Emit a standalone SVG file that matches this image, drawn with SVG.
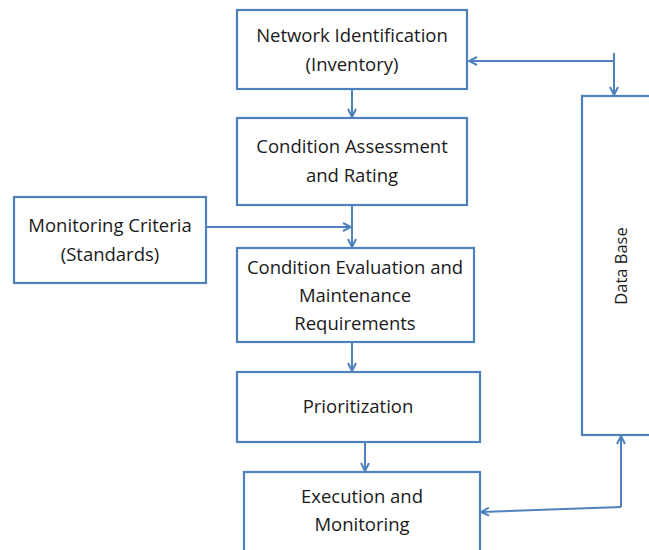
<svg xmlns="http://www.w3.org/2000/svg" width="649" height="550" viewBox="0 0 649 550">
  <style>
    .box { fill: #ffffff; stroke: #4f81bd; stroke-width: 2.2; }
    .lbl { font-family: "Open Sans", "Liberation Sans", sans-serif; font-size: 18.5px; fill: #1a1a1a; text-anchor: middle; }
    .wire { fill: none; stroke: #4f81bd; stroke-width: 2; }
  </style>
  <defs>
    <marker id="arr" viewBox="0 0 10 10" refX="9" refY="5" markerWidth="10" markerHeight="10" markerUnits="userSpaceOnUse" orient="auto">
      <path d="M1,1 L9,5 L1,9" fill="none" stroke="#4f81bd" stroke-width="2"/>
    </marker>
  </defs>
  <rect width="649" height="550" fill="#ffffff"/>

  <g id="network-identification">
    <rect class="box" x="237" y="10" width="230" height="79"/>
    <text class="lbl" x="352" y="42">Network Identification</text>
    <text class="lbl" x="352" y="71">(Inventory)</text>
  </g>
  <g id="condition-assessment">
    <rect class="box" x="237" y="118" width="230" height="87"/>
    <text class="lbl" x="352" y="153">Condition Assessment</text>
    <text class="lbl" x="352" y="182">and Rating</text>
  </g>
  <g id="monitoring-criteria">
    <rect class="box" x="14" y="197" width="192" height="86"/>
    <text class="lbl" x="110" y="232">Monitoring Criteria</text>
    <text class="lbl" x="110" y="261">(Standards)</text>
  </g>
  <g id="condition-evaluation">
    <rect class="box" x="237" y="248" width="237" height="94"/>
    <text class="lbl" x="355" y="274">Condition Evaluation and</text>
    <text class="lbl" x="355" y="302">Maintenance</text>
    <text class="lbl" x="355" y="330">Requirements</text>
  </g>
  <g id="prioritization">
    <rect class="box" x="237" y="372" width="243" height="70"/>
    <text class="lbl" x="358" y="413">Prioritization</text>
  </g>
  <g id="execution-monitoring">
    <rect class="box" x="244" y="472" width="236" height="90"/>
    <text class="lbl" x="362" y="503">Execution and</text>
    <text class="lbl" x="362" y="531">Monitoring</text>
  </g>
  <g id="data-base">
    <rect class="box" x="582" y="96" width="80" height="339"/>
    <text class="lbl" style="font-size:16.5px" transform="translate(627,266) rotate(-90)">Data Base</text>
  </g>

  <g id="connectors">
    <line class="wire" x1="352" y1="89" x2="352" y2="117" marker-end="url(#arr)"/>
    <line class="wire" x1="352" y1="205" x2="352" y2="247" marker-end="url(#arr)"/>
    <line class="wire" x1="206" y1="227" x2="351" y2="227" marker-end="url(#arr)"/>
    <line class="wire" x1="352" y1="342" x2="352" y2="371" marker-end="url(#arr)"/>
    <line class="wire" x1="365" y1="442" x2="365" y2="471" marker-end="url(#arr)"/>
    <line class="wire" x1="614" y1="61" x2="469" y2="61" marker-end="url(#arr)"/>
    <line class="wire" x1="614" y1="53" x2="614" y2="95" marker-end="url(#arr)"/>
    <line class="wire" x1="621" y1="507" x2="621" y2="436" marker-end="url(#arr)"/>
    <line class="wire" x1="621" y1="507" x2="481" y2="512" marker-end="url(#arr)"/>
  </g>
</svg>
